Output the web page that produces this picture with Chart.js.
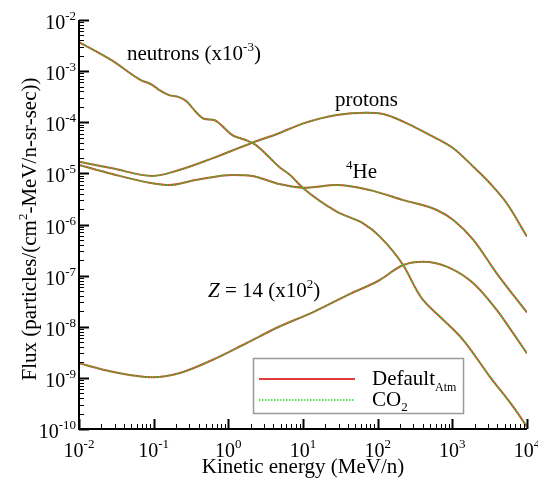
<!DOCTYPE html>
<html>
<head>
<meta charset="utf-8">
<script src="https://cdn.jsdelivr.net/npm/chart.js@4"></script>
<style>
  html, body { margin: 0; padding: 0; background: #fff; }
  #wrap { width: 538px; height: 481px; }
</style>
</head>
<body>
<div id="wrap"><canvas id="fluxChart"></canvas></div>
<script>
// kinetic energy (MeV/n) and flux (particles/(cm2-MeV/n-sr-sec))
const neutronE = [0.01, 0.0279, 0.067, 0.091, 0.124, 0.160, 0.218, 0.282, 0.366, 0.472, 0.643, 0.83, 1.13, 1.71, 2.32, 3.5, 4.77, 6.7, 10.1, 28.3, 64, 107, 220, 333, 408, 684, 1400, 3190, 6550, 10000];
const neutronFlux = [3.7e-3, 1.6e-3, 6.7e-4, 5.6e-4, 4.1e-4, 3.4e-4, 3.1e-4, 2.5e-4, 1.6e-4, 1.17e-4, 1.11e-4, 8.4e-5, 5.6e-5, 4.5e-5, 3.6e-5, 2.1e-5, 1.35e-5, 9.3e-6, 5.1e-6, 1.78e-6, 1.05e-6, 5.8e-7, 1.6e-7, 5.2e-8, 3.3e-8, 1.57e-8, 5.5e-9, 1.05e-9, 2.7e-10, 1.1e-10];

const protonE = [0.01, 0.0279, 0.096, 0.218, 0.61, 2.09, 4.77, 10.1, 28.3, 71.3, 119, 220, 502, 1030, 1910, 3190, 5350, 10000];
const protonFlux = [1.69e-5, 1.26e-5, 8.9e-6, 1.16e-5, 1.97e-5, 3.98e-5, 6.1e-5, 9.5e-5, 1.39e-4, 1.54e-4, 1.45e-4, 1.03e-4, 5.6e-5, 3.1e-5, 1.35e-5, 6.4e-6, 2.6e-6, 5.8e-7];

const heE = [0.01, 0.0279, 0.096, 0.160, 0.366, 1.13, 2.09, 4.77, 10.1, 28.3, 78.9, 220, 617, 1030, 1910, 3930, 10000];
const heFlux = [1.46e-5, 9.7e-6, 6.4e-6, 5.9e-6, 7.4e-6, 9.3e-6, 8.9e-6, 6.2e-6, 5.25e-6, 5.9e-6, 4.7e-6, 3.0e-6, 1.92e-6, 1.22e-6, 5.0e-7, 1.11e-7, 1.9e-8];

const z14E = [0.01, 0.0279, 0.096, 0.218, 0.61, 1.71, 4.77, 13.7, 42.6, 101, 220, 408, 840, 1910, 3930, 6550, 10000];
const z14Flux = [1.93e-9, 1.32e-9, 1.03e-9, 1.23e-9, 2.24e-9, 4.7e-9, 1.0e-8, 1.94e-8, 4.4e-8, 7.85e-8, 1.61e-7, 1.87e-7, 1.5e-7, 7.1e-8, 2.13e-8, 7.4e-9, 3.0e-9];

const xDecades = [-2, -1, 0, 1, 2, 3, 4];
const yDecades = [-10, -9, -8, -7, -6, -5, -4, -3, -2];

const RED = '#e23b3b';
const GREEN = '#1fdc1f';
const SERIF = '"Liberation Serif", "Times New Roman", serif';

function pairs(es, fs) {
    return es.map((e, i) => ({ x: e, y: fs[i] }));
}

// each species drawn twice: solid red (Default atm) under dotted green (CO2)
function curves(name, es, fs) {
    const base = {
        data: pairs(es, fs),
        pointRadius: 0,
        cubicInterpolationMode: 'monotone',
        fill: false
    };
    return [
        Object.assign({}, base, { label: name + ' Default', borderColor: RED, borderWidth: 2, order: 1 }),
        Object.assign({}, base, { label: name + ' CO2', borderColor: GREEN, borderWidth: 1.6, borderDash: [1.5, 1.5], order: 0 })
    ];
}

function font(size, italic) {
    return (italic ? 'italic ' : '') + size + 'px ' + SERIF;
}

// parts: [text, size, rise, italic]
function rich(ctx, parts, x, y, align) {
    let w = 0;
    parts.forEach(p => { ctx.font = font(p[1], p[3]); w += ctx.measureText(p[0]).width; });
    let cx = align === 'center' ? x - w / 2 : align === 'right' ? x - w : x;
    ctx.textAlign = 'left';
    ctx.textBaseline = 'alphabetic';
    parts.forEach(p => {
        ctx.font = font(p[1], p[3]);
        ctx.fillText(p[0], cx, y - (p[2] || 0));
        cx += ctx.measureText(p[0]).width;
    });
}

function pow10(k) {
    return [['10', 20, 0], [String(k), 13, 9]];
}

const decorPlugin = {
    id: 'decor',
    afterDatasetsDraw(chart) {
        const { ctx, chartArea: a, scales: { x, y } } = chart;
        ctx.save();
        ctx.strokeStyle = '#000';
        ctx.fillStyle = '#000';

        // inward ticks on the x axis
        xDecades.forEach(k => {
            const px = Math.round(x.getPixelForValue(Math.pow(10, k))) + 0.5;
            ctx.lineWidth = 2;
            ctx.beginPath(); ctx.moveTo(px, a.bottom); ctx.lineTo(px, a.bottom - 10); ctx.stroke();
            if (k < 4) {
                ctx.lineWidth = 1;
                for (let m = 2; m < 10; m++) {
                    const mx = Math.round(x.getPixelForValue(m * Math.pow(10, k))) + 0.5;
                    ctx.beginPath(); ctx.moveTo(mx, a.bottom); ctx.lineTo(mx, a.bottom - 5); ctx.stroke();
                }
            }
        });
        // inward ticks on the y axis
        yDecades.forEach(k => {
            const py = Math.round(y.getPixelForValue(Math.pow(10, k))) + 0.5;
            ctx.lineWidth = 2;
            ctx.beginPath(); ctx.moveTo(a.left, py); ctx.lineTo(a.left + 10, py); ctx.stroke();
            if (k < -2) {
                ctx.lineWidth = 1;
                for (let m = 2; m < 10; m++) {
                    const my = Math.round(y.getPixelForValue(m * Math.pow(10, k))) + 0.5;
                    ctx.beginPath(); ctx.moveTo(a.left, my); ctx.lineTo(a.left + 5, my); ctx.stroke();
                }
            }
        });

        // axis lines
        ctx.lineWidth = 2;
        ctx.beginPath();
        ctx.moveTo(a.left, a.top);
        ctx.lineTo(a.left, a.bottom);
        ctx.lineTo(a.right, a.bottom);
        ctx.stroke();

        // tick labels
        xDecades.forEach(k => {
            rich(ctx, pow10(k), x.getPixelForValue(Math.pow(10, k)), a.bottom + 28, 'center');
        });
        yDecades.forEach(k => {
            rich(ctx, pow10(k), a.left - 3, y.getPixelForValue(Math.pow(10, k)) + 9, 'right');
        });

        // axis titles
        rich(ctx, [['Kinetic energy (MeV/n)', 21, 0]], 303, 473, 'center');
        ctx.save();
        ctx.translate(36, 229);
        ctx.rotate(-Math.PI / 2);
        rich(ctx, [['Flux (particles/(cm', 21, 0], ['2', 13, 9], ['-MeV/n-sr-sec))', 21, 0]], 0, 0, 'center');
        ctx.restore();

        // curve labels
        rich(ctx, [['neutrons (x10', 21, 0], ['-3', 13, 9], [')', 21, 0]], 127, 60, 'left');
        rich(ctx, [['protons', 21, 0]], 335, 106, 'left');
        rich(ctx, [['4', 13, 9], ['He', 21, 0]], 346, 178, 'left');
        rich(ctx, [['Z', 21, 0, true], [' = 14 (x10', 21, 0], ['2', 13, 9], [')', 21, 0]], 208, 297, 'left');

        // legend box
        ctx.fillStyle = '#fff';
        ctx.fillRect(253, 358, 210, 55);
        ctx.strokeStyle = '#999';
        ctx.lineWidth = 1.5;
        ctx.strokeRect(253.5, 358.5, 210, 55);
        ctx.strokeStyle = RED;
        ctx.lineWidth = 2;
        ctx.beginPath(); ctx.moveTo(259, 379); ctx.lineTo(355, 379); ctx.stroke();
        ctx.strokeStyle = GREEN;
        ctx.lineWidth = 1.6;
        ctx.setLineDash([1.5, 1.5]);
        ctx.beginPath(); ctx.moveTo(259, 400); ctx.lineTo(355, 400); ctx.stroke();
        ctx.setLineDash([]);
        ctx.fillStyle = '#000';
        rich(ctx, [['Default', 21, 0], ['Atm', 12, -6]], 372, 385, 'left');
        rich(ctx, [['CO', 21, 0], ['2', 13, -5]], 372, 406, 'left');

        ctx.restore();
    }
};

new Chart(document.getElementById('fluxChart').getContext('2d'), {
    type: 'line',
    data: {
        datasets: [
            ...curves('neutrons', neutronE, neutronFlux),
            ...curves('protons', protonE, protonFlux),
            ...curves('4He', heE, heFlux),
            ...curves('Z=14', z14E, z14Flux)
        ]
    },
    options: {
        responsive: true,
        maintainAspectRatio: false,
        animation: false,
        layout: { padding: { left: 79, right: 11, top: 20, bottom: 52 } },
        plugins: { legend: { display: false }, tooltip: { enabled: false } },
        scales: {
            x: { type: 'logarithmic', min: 0.01, max: 10000, display: false },
            y: { type: 'logarithmic', min: 1e-10, max: 1e-2, display: false }
        }
    },
    plugins: [decorPlugin]
});
</script>
</body>
</html>
